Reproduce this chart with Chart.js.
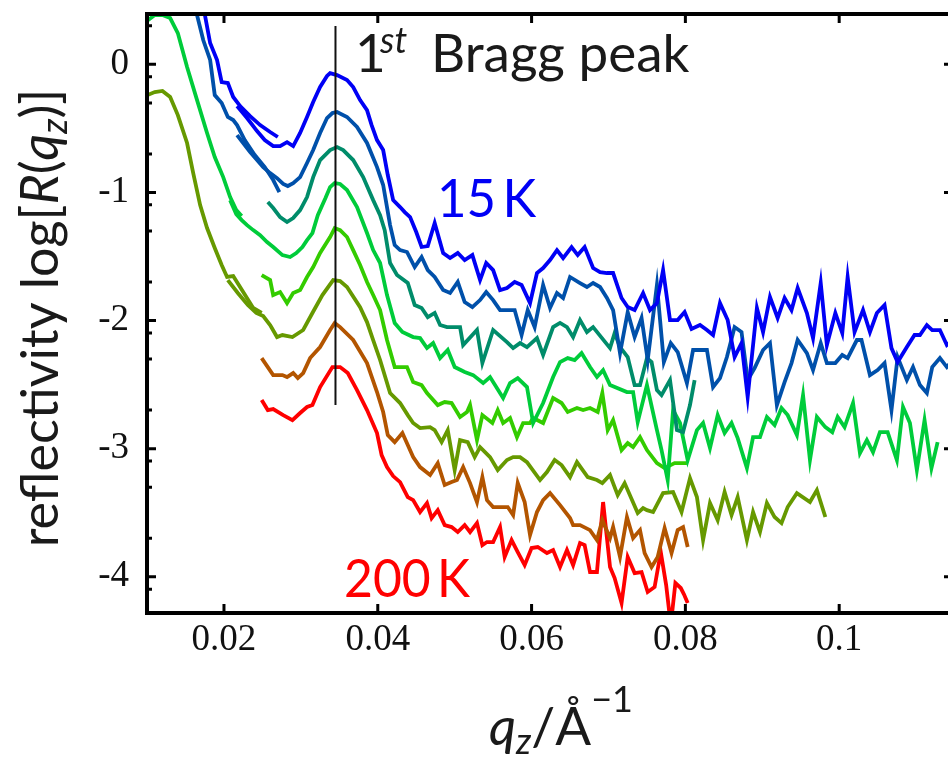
<!DOCTYPE html>
<html>
<head>
<meta charset="utf-8">
<script src="https://cdn.jsdelivr.net/npm/chart.js@4.4.0/dist/chart.umd.min.js"></script>
<style>
  html, body { margin: 0; padding: 0; background: #fff; overflow: hidden; }
  #wrap { position: relative; width: 948px; height: 757px; overflow: hidden; }
  #wrap canvas { position: absolute; left: 0; top: 0; }
</style>
</head>
<body>
<div id="wrap"><canvas id="refl" width="960" height="757"></canvas></div>
<script>
// ---- reflectivity curves: q_z (1/Å) and log10 R ----
// low-q segments (first detector range) overlap the main scans
const qBlueLow = [0.0174, 0.0182, 0.0191, 0.0197, 0.0205, 0.0212, 0.0221, 0.0234, 0.0247, 0.0260, 0.0270];
const rBlueLow = [0.424, 0.166, 0.034, -0.138, -0.146, -0.255, -0.326, -0.404, -0.474, -0.528, -0.567];

const qBlue = [0.0217, 0.0230, 0.0243, 0.0253, 0.0264, 0.0273, 0.0282, 0.0290, 0.0299, 0.0308, 0.0316, 0.0325,
  0.0334, 0.0338, 0.0347, 0.0360, 0.0368, 0.0377, 0.0386, 0.0392, 0.0399, 0.0407, 0.0413, 0.0420, 0.0429, 0.0435,
  0.0442, 0.0450, 0.0457, 0.0465, 0.0474, 0.0485, 0.0494, 0.0504, 0.0513, 0.0523, 0.0533, 0.0541, 0.0550, 0.0559,
  0.0568, 0.0578, 0.0587, 0.0598, 0.0607, 0.0615, 0.0624, 0.0633, 0.0641, 0.0652, 0.0660, 0.0669, 0.0680, 0.0689,
  0.0698, 0.0706, 0.0717, 0.0725, 0.0734, 0.0745, 0.0754, 0.0763, 0.0771, 0.0780, 0.0790, 0.0799, 0.0808, 0.0819,
  0.0828, 0.0836, 0.0845, 0.0855, 0.0864, 0.0873, 0.0881, 0.0893, 0.0901, 0.0910, 0.0920, 0.0929, 0.0938, 0.0946,
  0.0958, 0.0966, 0.0976, 0.0984, 0.0995, 0.1004, 0.1011, 0.1020, 0.1031, 0.1040, 0.1049, 0.1059, 0.1068, 0.1076,
  0.1088, 0.1098, 0.1105, 0.1114, 0.1121, 0.1131, 0.1140, 0.1148];
const rBlue = [-0.326, -0.419, -0.521, -0.591, -0.638, -0.638, -0.607, -0.638, -0.536, -0.411, -0.294, -0.177,
  -0.091, -0.068, -0.084, -0.123, -0.177, -0.279, -0.357, -0.474, -0.591, -0.669, -0.864, -1.060, -1.114, -1.153,
  -1.192, -1.309, -1.426, -1.419, -1.239, -1.473, -1.512, -1.473, -1.528, -1.489, -1.684, -1.551, -1.606, -1.762,
  -1.746, -1.699, -1.723, -1.864, -1.629, -1.590, -1.528, -1.450, -1.512, -1.426, -1.489, -1.426, -1.590, -1.622,
  -1.629, -1.629, -1.824, -1.895, -1.918, -1.785, -1.918, -1.864, -1.606, -1.996, -1.996, -1.934, -2.066, -2.035,
  -2.074, -2.113, -1.864, -1.996, -2.285, -2.176, -2.597, -1.902, -2.090, -1.817, -1.980, -1.824, -1.918, -1.746,
  -1.941, -2.137, -1.707, -2.191, -1.941, -2.098, -1.660, -2.090, -1.918, -2.090, -1.941, -1.879, -2.215, -2.324,
  -2.207, -2.113, -2.113, -2.035, -2.074, -2.074, -2.191, -2.152];

const qNavyLow = [0.0164, 0.0173, 0.0182, 0.0188, 0.0197, 0.0205, 0.0212, 0.0217, 0.0227, 0.0240, 0.0253, 0.0264, 0.0272];
const rNavyLow = [0.408, 0.190, 0.034, -0.240, -0.302, -0.411, -0.435, -0.474, -0.591, -0.708, -0.802, -0.903, -0.997];

const qNavy = [0.0217, 0.0225, 0.0234, 0.0243, 0.0251, 0.0260, 0.0269, 0.0277, 0.0283, 0.0290, 0.0299, 0.0308,
  0.0316, 0.0325, 0.0334, 0.0341, 0.0347, 0.0360, 0.0373, 0.0386, 0.0399, 0.0407, 0.0416, 0.0422, 0.0429, 0.0438,
  0.0448, 0.0457, 0.0465, 0.0474, 0.0485, 0.0494, 0.0504, 0.0513, 0.0523, 0.0533, 0.0541, 0.0550, 0.0559, 0.0568,
  0.0578, 0.0587, 0.0595, 0.0604, 0.0615, 0.0624, 0.0633, 0.0641, 0.0650, 0.0663, 0.0672, 0.0680, 0.0689, 0.0698,
  0.0706, 0.0715, 0.0725, 0.0734, 0.0743, 0.0751, 0.0763, 0.0772, 0.0781, 0.0790, 0.0802, 0.0810, 0.0828, 0.0836,
  0.0845, 0.0854, 0.0864, 0.0873, 0.0881, 0.0890, 0.0901, 0.0910, 0.0919, 0.0929, 0.0938, 0.0946, 0.0958, 0.0966,
  0.0976, 0.0984, 0.0995, 0.1004, 0.1011, 0.1023, 0.1029, 0.1040, 0.1050, 0.1059, 0.1068, 0.1076, 0.1088, 0.1096,
  0.1105, 0.1114, 0.1121, 0.1131, 0.1140, 0.1148];
const rNavy = [-0.552, -0.614, -0.685, -0.747, -0.802, -0.849, -0.888, -0.934, -0.950, -0.927, -0.880, -0.770,
  -0.669, -0.536, -0.419, -0.380, -0.372, -0.411, -0.489, -0.614, -0.802, -0.942, -1.255, -1.411, -1.450, -1.465,
  -1.583, -1.504, -1.606, -1.660, -1.762, -1.785, -1.699, -1.856, -1.895, -1.840, -1.778, -1.840, -1.918, -1.918,
  -1.918, -2.113, -1.918, -2.051, -1.723, -1.902, -1.785, -1.824, -1.660, -1.707, -1.738, -1.707, -1.738, -1.824,
  -1.918, -2.254, -1.934, -2.129, -1.980, -2.308, -1.723, -2.324, -2.176, -2.246, -2.488, -2.230, -2.230, -2.519,
  -2.449, -2.285, -2.051, -2.090, -2.465, -2.371, -2.230, -2.176, -2.660, -2.480, -2.332, -2.152, -2.254, -2.387,
  -2.176, -2.332, -2.332, -2.269, -2.293, -2.152, -2.152, -2.426, -2.387, -2.332, -2.699, -2.285, -2.465, -2.363,
  -2.504, -2.566, -2.363, -2.293, -2.363, -2.308];

const qTeal = [0.0257, 0.0264, 0.0273, 0.0282, 0.0290, 0.0299, 0.0308, 0.0316, 0.0325, 0.0338, 0.0347, 0.0355,
  0.0368, 0.0381, 0.0394, 0.0403, 0.0409, 0.0416, 0.0425, 0.0439, 0.0448, 0.0457, 0.0465, 0.0474, 0.0481, 0.0490,
  0.0507, 0.0511, 0.0529, 0.0536, 0.0550, 0.0568, 0.0576, 0.0585, 0.0594, 0.0607, 0.0615, 0.0628, 0.0637, 0.0646,
  0.0654, 0.0663, 0.0672, 0.0680, 0.0702, 0.0708, 0.0715, 0.0725, 0.0734, 0.0741, 0.0750, 0.0756, 0.0763, 0.0769,
  0.0780, 0.0789, 0.0797, 0.0806, 0.0812];
const rTeal = [-1.075, -1.122, -1.192, -1.231, -1.200, -1.138, -1.036, -0.880, -0.747, -0.669, -0.646, -0.669,
  -0.747, -0.880, -1.060, -1.177, -1.294, -1.551, -1.645, -1.707, -1.879, -1.902, -1.973, -1.941, -2.035, -2.051,
  -2.051, -2.191, -2.074, -2.332, -2.074, -2.168, -2.215, -2.176, -2.207, -2.137, -2.269, -2.051, -2.019, -2.051,
  -2.129, -1.996, -2.090, -2.051, -2.215, -2.098, -2.207, -2.285, -2.504, -2.504, -2.293, -2.324, -2.543, -2.582,
  -2.465, -2.855, -2.871, -2.660, -2.465];

const qGreenLow = [0.0098, 0.0110, 0.0120, 0.0130, 0.0140, 0.0152, 0.0165, 0.0178, 0.0188, 0.0199, 0.0208, 0.0216, 0.0223];
const rGreenLow = [0.330, 0.385, 0.385, 0.361, 0.244, -0.021, -0.279, -0.536, -0.724, -0.880, -1.036, -1.138, -1.184];

const qGreen = [0.0208, 0.0216, 0.0223, 0.0230, 0.0238, 0.0247, 0.0256, 0.0264, 0.0276, 0.0286, 0.0294, 0.0302,
  0.0308, 0.0315, 0.0322, 0.0332, 0.0338, 0.0344, 0.0351, 0.0360, 0.0373, 0.0386, 0.0394, 0.0403, 0.0412, 0.0422,
  0.0432, 0.0446, 0.0455, 0.0464, 0.0472, 0.0481, 0.0491, 0.0500, 0.0513, 0.0524, 0.0537, 0.0546, 0.0563, 0.0572,
  0.0582, 0.0594, 0.0602, 0.0615, 0.0628, 0.0637, 0.0647, 0.0656, 0.0665, 0.0676, 0.0685, 0.0693, 0.0702, 0.0724,
  0.0732, 0.0738, 0.0750, 0.0763, 0.0769, 0.0777, 0.0784, 0.0793, 0.0803, 0.0815, 0.0823, 0.0832, 0.0842, 0.0851,
  0.0860, 0.0868, 0.0880, 0.0888, 0.0897, 0.0906, 0.0916, 0.0925, 0.0933, 0.0945, 0.0953, 0.0962, 0.0971, 0.0982,
  0.0991, 0.0998, 0.1007, 0.1018, 0.1027, 0.1036, 0.1044, 0.1053, 0.1063, 0.1075, 0.1083, 0.1092, 0.1101, 0.1111,
  0.1120, 0.1128];
const rGreen = [-1.060, -1.169, -1.216, -1.255, -1.294, -1.333, -1.387, -1.426, -1.489, -1.504, -1.473, -1.426,
  -1.372, -1.317, -1.177, -1.044, -0.958, -0.927, -0.934, -0.981, -1.114, -1.317, -1.450, -1.551, -1.801, -2.019,
  -2.090, -2.129, -2.137, -2.215, -2.176, -2.293, -2.230, -2.363, -2.402, -2.426, -2.488, -2.441, -2.605, -2.488,
  -2.449, -2.519, -2.800, -2.644, -2.441, -2.324, -2.293, -2.308, -2.254, -2.363, -2.441, -2.387, -2.504, -2.558,
  -2.558, -2.793, -2.504, -2.855, -3.011, -3.245, -2.699, -2.800, -3.089, -2.855, -2.800, -2.996, -2.738, -2.878,
  -2.800, -2.918, -3.152, -2.910, -2.910, -2.753, -2.816, -2.683, -2.738, -2.894, -2.582, -3.089, -2.753, -2.832,
  -2.871, -2.753, -2.832, -2.644, -3.035, -2.933, -3.027, -2.871, -2.871, -3.089, -2.675, -2.800, -3.167, -2.777,
  -3.152, -2.949];

const qLime = [0.0249, 0.0260, 0.0264, 0.0273, 0.0282, 0.0290, 0.0299, 0.0308, 0.0316, 0.0325, 0.0338, 0.0344,
  0.0351, 0.0360, 0.0368, 0.0377, 0.0386, 0.0394, 0.0403, 0.0412, 0.0422, 0.0438, 0.0446, 0.0457, 0.0464, 0.0478,
  0.0487, 0.0496, 0.0507, 0.0516, 0.0520, 0.0529, 0.0536, 0.0549, 0.0556, 0.0563, 0.0572, 0.0581, 0.0589, 0.0598,
  0.0602, 0.0615, 0.0628, 0.0639, 0.0647, 0.0659, 0.0667, 0.0676, 0.0686, 0.0692, 0.0699, 0.0706, 0.0717, 0.0725,
  0.0732, 0.0741, 0.0750, 0.0763, 0.0773, 0.0786, 0.0802];
const rLime = [-1.645, -1.684, -1.801, -1.778, -1.864, -1.785, -1.762, -1.660, -1.583, -1.473, -1.348, -1.278,
  -1.294, -1.348, -1.450, -1.567, -1.699, -1.801, -1.918, -2.152, -2.363, -2.363, -2.480, -2.504, -2.566, -2.660,
  -2.636, -2.644, -2.753, -2.714, -2.660, -2.933, -2.738, -2.800, -2.699, -2.800, -2.761, -2.910, -2.800, -2.800,
  -2.761, -2.800, -2.605, -2.644, -2.714, -2.683, -2.699, -2.683, -2.714, -2.566, -2.855, -2.777, -3.011, -2.957,
  -2.988, -2.910, -3.011, -3.113, -3.152, -3.113, -3.113];

const qOliveLow = [0.0097, 0.0110, 0.0120, 0.0130, 0.0140, 0.0152, 0.0160, 0.0169, 0.0178, 0.0188, 0.0197, 0.0204,
  0.0212, 0.0225, 0.0238, 0.0249];
const rOliveLow = [-0.248, -0.216, -0.208, -0.255, -0.396, -0.614, -0.849, -1.099, -1.278, -1.434, -1.567, -1.660,
  -1.653, -1.778, -1.902, -1.941];

const qOlive = [0.0205, 0.0218, 0.0231, 0.0242, 0.0251, 0.0260, 0.0269, 0.0276, 0.0289, 0.0303, 0.0315, 0.0328,
  0.0342, 0.0351, 0.0360, 0.0377, 0.0386, 0.0394, 0.0403, 0.0416, 0.0429, 0.0439, 0.0446, 0.0455, 0.0468, 0.0474,
  0.0483, 0.0491, 0.0500, 0.0507, 0.0517, 0.0526, 0.0533, 0.0546, 0.0556, 0.0568, 0.0576, 0.0585, 0.0594, 0.0611,
  0.0620, 0.0630, 0.0639, 0.0650, 0.0659, 0.0673, 0.0685, 0.0692, 0.0702, 0.0708, 0.0712, 0.0721, 0.0738, 0.0745,
  0.0750, 0.0758, 0.0771, 0.0784, 0.0795, 0.0806, 0.0815, 0.0823, 0.0832, 0.0842, 0.0851, 0.0860, 0.0868, 0.0880,
  0.0888, 0.0897, 0.0906, 0.0916, 0.0925, 0.0933, 0.0945, 0.0962, 0.0971, 0.0982];
const rOlive = [-1.684, -1.785, -1.879, -1.941, -1.965, -2.035, -2.129, -2.113, -2.129, -2.074, -1.941, -1.801,
  -1.684, -1.692, -1.738, -1.895, -2.012, -2.152, -2.308, -2.566, -2.644, -2.738, -2.800, -2.839, -2.832, -2.855,
  -2.949, -2.855, -3.167, -2.933, -2.949, -3.066, -2.988, -3.066, -3.167, -3.089, -3.066, -3.066, -3.105, -3.245,
  -3.183, -3.089, -3.128, -3.222, -3.105, -3.222, -3.245, -3.269, -3.206, -3.300, -3.363, -3.269, -3.503, -3.464,
  -3.480, -3.495, -3.347, -3.339, -3.495, -3.230, -3.378, -3.714, -3.425, -3.558, -3.339, -3.519, -3.378, -3.714,
  -3.495, -3.651, -3.425, -3.534, -3.581, -3.456, -3.347, -3.417, -3.324, -3.534];

const qBrown = [0.0249, 0.0264, 0.0276, 0.0282, 0.0290, 0.0296, 0.0303, 0.0312, 0.0325, 0.0338, 0.0344, 0.0351,
  0.0368, 0.0386, 0.0399, 0.0407, 0.0413, 0.0422, 0.0432, 0.0439, 0.0446, 0.0455, 0.0468, 0.0478, 0.0487, 0.0496,
  0.0503, 0.0511, 0.0520, 0.0529, 0.0536, 0.0542, 0.0550, 0.0569, 0.0576, 0.0582, 0.0591, 0.0598, 0.0607, 0.0615,
  0.0624, 0.0637, 0.0650, 0.0654, 0.0663, 0.0676, 0.0685, 0.0692, 0.0702, 0.0706, 0.0715, 0.0724, 0.0732, 0.0741,
  0.0747, 0.0756, 0.0764, 0.0773, 0.0782, 0.0790, 0.0797, 0.0803];
const rBrown = [-2.293, -2.426, -2.426, -2.441, -2.410, -2.449, -2.410, -2.293, -2.207, -2.074, -2.019, -2.051,
  -2.152, -2.332, -2.558, -2.714, -2.894, -2.949, -2.878, -2.972, -3.066, -3.144, -3.206, -3.113, -3.284, -3.261,
  -3.245, -3.144, -3.269, -3.417, -3.222, -3.402, -3.456, -3.456, -3.519, -3.269, -3.417, -3.675, -3.495, -3.402,
  -3.347, -3.441, -3.542, -3.597, -3.597, -3.636, -3.714, -3.558, -3.698, -3.612, -3.846, -3.534, -3.698, -3.636,
  -3.815, -3.924, -3.846, -3.620, -3.815, -3.636, -3.612, -3.768];

const qRed = [0.0249, 0.0257, 0.0264, 0.0277, 0.0289, 0.0299, 0.0308, 0.0315, 0.0325, 0.0341, 0.0351, 0.0361,
  0.0373, 0.0386, 0.0399, 0.0405, 0.0412, 0.0420, 0.0429, 0.0439, 0.0446, 0.0455, 0.0464, 0.0470, 0.0478, 0.0487,
  0.0496, 0.0504, 0.0513, 0.0520, 0.0529, 0.0536, 0.0542, 0.0550, 0.0559, 0.0565, 0.0574, 0.0582, 0.0591, 0.0600,
  0.0608, 0.0620, 0.0628, 0.0637, 0.0646, 0.0654, 0.0663, 0.0669, 0.0676, 0.0685, 0.0693, 0.0702, 0.0708, 0.0717,
  0.0725, 0.0734, 0.0743, 0.0751, 0.0760, 0.0768, 0.0775, 0.0781, 0.0787, 0.0794, 0.0798, 0.0803];
const rRed = [-2.621, -2.699, -2.691, -2.738, -2.777, -2.722, -2.675, -2.660, -2.519, -2.363, -2.363, -2.410,
  -2.543, -2.699, -2.878, -3.050, -3.144, -3.214, -3.261, -3.378, -3.402, -3.495, -3.425, -3.542, -3.480, -3.597,
  -3.612, -3.651, -3.597, -3.651, -3.581, -3.753, -3.729, -3.729, -3.612, -3.846, -3.714, -3.807, -3.909, -3.776,
  -3.768, -3.815, -3.792, -3.924, -3.792, -3.909, -3.737, -3.753, -3.963, -3.963, -3.417, -3.924, -4.010, -4.205,
  -3.846, -3.971, -3.963, -4.119, -4.080, -3.807, -4.065, -4.377, -4.049, -4.088, -4.135, -4.205];

// marker for the first Bragg peak position
const qBragg = [0.0345, 0.0345];
const rBragg = [0.299, -2.66];

// axes
const xTickValues = [0.02, 0.04, 0.06, 0.08, 0.1];
const xTickLabels = ['0.02', '0.04', '0.06', '0.08', '0.1'];
const yTickValues = [0, -1, -2, -3, -4];
const yTickLabels = ['0', '-1', '-2', '-3', '-4'];
const yMinorValues = [0.301, -0.097, -0.301, -0.699, -1.097, -1.301, -1.699, -2.097, -2.301, -2.699,
  -3.097, -3.301, -3.699, -4.097];

const toPoints = (q, r) => q.map((v, i) => ({ x: v, y: r[i] }));

const BLUE = '#0000f5', NAVY = '#0050aa', TEAL = '#008c6a', GREEN = '#00cc3a',
      LIME = '#33cc00', OLIVE = '#669900', BROWN = '#b35500', RED = '#ff0000';

function curve(q, r, color) {
  return {
    data: toPoints(q, r),
    borderColor: color,
    borderWidth: 3.8,
    pointRadius: 0,
    tension: 0,
    fill: false,
    borderJoinStyle: 'miter'
  };
}

const datasets = [
  {
    data: toPoints(qBragg, rBragg),
    borderColor: '#111',
    borderWidth: 2,
    pointRadius: 0,
    fill: false
  },
  curve(qBlue, rBlue, BLUE),
  curve(qBlueLow, rBlueLow, BLUE),
  curve(qNavy, rNavy, NAVY),
  curve(qNavyLow, rNavyLow, NAVY),
  curve(qTeal, rTeal, TEAL),
  curve(qGreen, rGreen, GREEN),
  curve(qGreenLow, rGreenLow, GREEN),
  curve(qLime, rLime, LIME),
  curve(qOlive, rOlive, OLIVE),
  curve(qOliveLow, rOliveLow, OLIVE),
  curve(qBrown, rBrown, BROWN),
  curve(qRed, rRed, RED)
];

// frame with inward ticks on all four sides
const framePlugin = {
  id: 'frame',
  afterDraw(chart) {
    const { ctx, chartArea: a, scales: { x, y } } = chart;
    ctx.save();
    ctx.strokeStyle = '#000';
    ctx.lineWidth = 3;
    ctx.beginPath();
    xTickValues.forEach(v => {
      const px = x.getPixelForValue(v);
      ctx.moveTo(px, a.bottom); ctx.lineTo(px, a.bottom - 9);
      ctx.moveTo(px, a.top); ctx.lineTo(px, a.top + 9);
    });
    yTickValues.forEach(v => {
      const py = y.getPixelForValue(v);
      ctx.moveTo(a.left, py); ctx.lineTo(a.left + 9, py);
      ctx.moveTo(a.right, py); ctx.lineTo(a.right - 9, py);
    });
    yMinorValues.forEach(v => {
      const py = y.getPixelForValue(v);
      ctx.moveTo(a.left, py); ctx.lineTo(a.left + 5, py);
      ctx.moveTo(a.right, py); ctx.lineTo(a.right - 5, py);
    });
    ctx.stroke();
    ctx.lineWidth = 4;
    ctx.strokeRect(a.left, a.top, a.right - a.left, a.bottom - a.top);
    ctx.restore();
  }
};

// draws a run of [text, font, dy] pieces left to right from (x0, y0),
// optionally squeezed horizontally by sx
function drawRuns(ctx, runs, x0, y0, color, sx = 1) {
  let xx = 0;
  ctx.save();
  ctx.translate(x0, y0);
  ctx.scale(sx, 1);
  ctx.fillStyle = color;
  ctx.textBaseline = 'alphabetic';
  ctx.textAlign = 'left';
  runs.forEach(([txt, font, dy]) => {
    ctx.font = font;
    ctx.fillText(txt, xx, dy || 0);
    xx += ctx.measureText(txt).width;
  });
  ctx.restore();
  return xx * sx;
}

function runsWidth(ctx, runs) {
  let w = 0;
  runs.forEach(([txt, font]) => { ctx.font = font; w += ctx.measureText(txt).width; });
  return w;
}

const SANS = 'Lato, "Open Sans", sans-serif';

const labelPlugin = {
  id: 'labels',
  afterDraw(chart) {
    const { ctx } = chart;
    ctx.save();

    // y-axis title, rotated
    const yRuns = [
      ['reflectivity log[', `52px ${SANS}`],
      ['R', `italic 52px ${SANS}`],
      ['(', `52px ${SANS}`],
      ['q', `italic 52px ${SANS}`],
      ['z', `italic 36px ${SANS}`, 9],
      [')]', `52px ${SANS}`]
    ];
    ctx.save();
    ctx.translate(58, 318);
    ctx.rotate(-Math.PI / 2);
    drawRuns(ctx, yRuns, -runsWidth(ctx, yRuns) / 2, 0, '#1a1a1a');
    ctx.restore();

    // x-axis title
    drawRuns(ctx, [
      ['q', `italic 53px ${SANS}`],
      ['z', `italic 36px ${SANS}`, 9],
      ['/', `53px ${SANS}`],
      ['Å', `53px ${SANS}`],
      ['\u22121', `36px ${SANS}`, -33]
    ], 489, 745, '#1a1a1a');

    // annotations
    drawRuns(ctx, [['1', `53px ${SANS}`]], 355, 72, '#1a1a1a');
    drawRuns(ctx, [['st', `italic 36px ${SANS}`]], 380, 53, '#1a1a1a');
    drawRuns(ctx, [['Bragg peak', `53px ${SANS}`]], 431, 72, '#1a1a1a');
    drawRuns(ctx, [['15\u2009K', `53px ${SANS}`]], 437, 217, BLUE, 0.96);
    drawRuns(ctx, [['200\u2009K', `53px ${SANS}`]], 344, 597, RED, 0.94);

    ctx.restore();
  }
};

// scales carry no extra edge padding for their labels
function noEdgePadding(scale) {
  scale.paddingTop = 0;
  scale.paddingBottom = 0;
  scale.paddingLeft = 0;
  scale.paddingRight = 0;
}

new Chart(document.getElementById('refl'), {
  type: 'line',
  data: { datasets },
  plugins: [framePlugin, labelPlugin],
  options: {
    responsive: false,
    animation: false,
    events: [],
    layout: { autoPadding: false, padding: { left: 0, right: 7, top: 14, bottom: 0 } },
    plugins: { legend: { display: false }, tooltip: { enabled: false } },
    scales: {
      x: {
        type: 'linear',
        min: 0.00999,
        max: 0.1148,
        afterFit(scale) { scale.height = 144; noEdgePadding(scale); },
        afterBuildTicks(scale) { scale.ticks = xTickValues.map(v => ({ value: v })); },
        grid: { display: false, drawTicks: false },
        border: { display: false },
        ticks: {
          padding: 5,
          color: '#111',
          font: { family: '"Liberation Serif", serif', size: 37 },
          callback: v => xTickLabels[xTickValues.indexOf(v)]
        }
      },
      y: {
        type: 'linear',
        min: -4.283,
        max: 0.393,
        afterFit(scale) { scale.width = 147; noEdgePadding(scale); },
        afterBuildTicks(scale) { scale.ticks = yTickValues.map(v => ({ value: v })); },
        grid: { display: false, drawTicks: false },
        border: { display: false },
        ticks: {
          padding: 18,
          color: '#111',
          font: { family: '"Liberation Serif", serif', size: 37 },
          callback: v => yTickLabels[yTickValues.indexOf(v)]
        }
      }
    }
  }
});
</script>
</body>
</html>
